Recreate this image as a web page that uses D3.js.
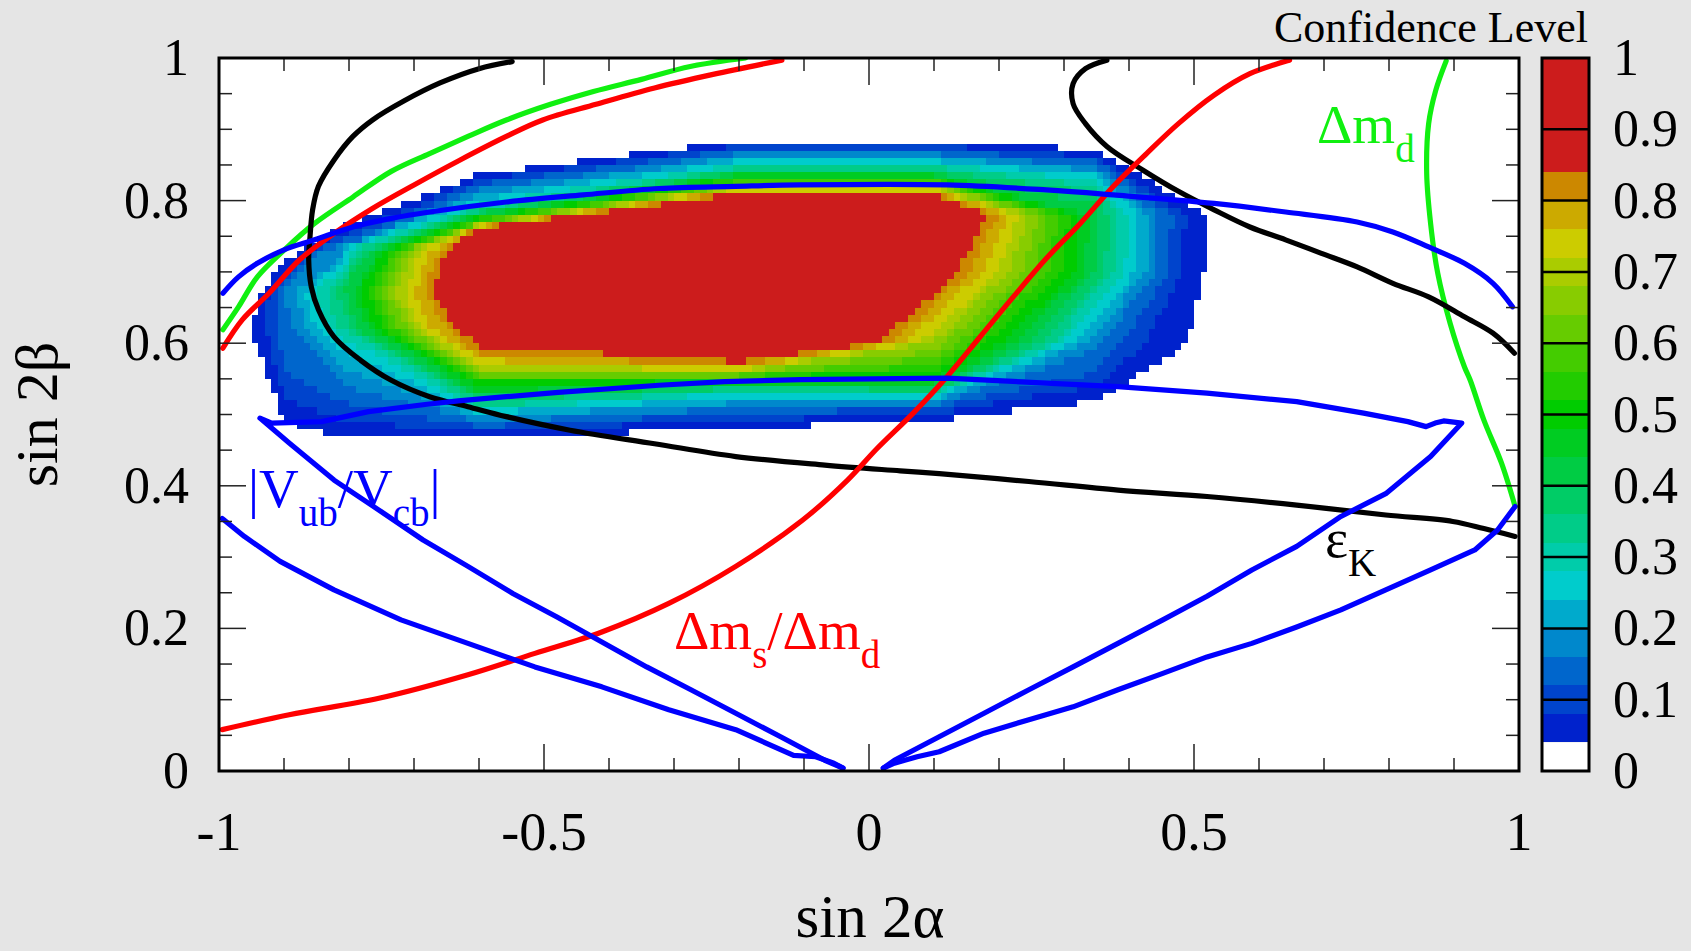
<!DOCTYPE html>
<html><head><meta charset="utf-8">
<script src="https://cdn.jsdelivr.net/npm/d3@7"></script>
<style>
html,body{margin:0;padding:0;background:#e5e5e5;}
svg{display:block;font-family:"Liberation Serif","Times New Roman",serif;}
</style>
</head><body>
<svg id="chart" width="1691" height="951"></svg>
<script>
// ---------------- DATA ----------------
const xTickValues = [-1, -0.5, 0, 0.5, 1];
const xTickLabels = ["-1", "-0.5", "0", "0.5", "1"];
const yTickValues = [0, 0.2, 0.4, 0.6, 0.8, 1];
const yTickLabels = ["0", "0.2", "0.4", "0.6", "0.8", "1"];
const zTickValues = [0, 0.1, 0.2, 0.3, 0.4, 0.5, 0.6, 0.7, 0.8, 0.9, 1];
const zTickLabels = ["0", "0.1", "0.2", "0.3", "0.4", "0.5", "0.6", "0.7", "0.8", "0.9", "1"];

// confidence-level contour levels and band colours (band k = [level k, level k+1))
const clLevels = [0.04,0.08,0.12,0.16,0.20,0.24,0.28,0.32,0.36,0.40,0.44,0.48,0.52,0.56,0.60,0.64,0.68,0.72,0.76,0.80,0.84];
const clColors = ["#0022cc","#0044cc","#0066cc","#0088cc","#00aacc","#00cccc","#00ccaa","#00cc88","#00cc66","#00cc44","#00cc22","#00cc00","#22cc00","#44cc00","#66cc00","#88cc00","#aacc00","#cccc00","#ccaa00","#cc8800","#cc1c1c"];

// positions where each CL level boundary crosses a horizontal row (x values) ...
const rowLeft062 = [-0.952,-0.929,-0.909,-0.888,-0.868,-0.850,-0.832,-0.816,-0.801,-0.786,-0.773,-0.760,-0.745,-0.734,-0.724,-0.711,-0.701,-0.688,-0.673,-0.652,-0.636];
const rowLeft067 = [-0.937,-0.924,-0.914,-0.899,-0.880,-0.868,-0.852,-0.837,-0.822,-0.806,-0.793,-0.786,-0.770,-0.760,-0.750,-0.740,-0.729,-0.714,-0.699,-0.683,-0.670];
const rowLeft073 = [-0.875,-0.864,-0.856,-0.843,-0.827,-0.817,-0.804,-0.791,-0.779,-0.766,-0.755,-0.749,-0.736,-0.727,-0.719,-0.710,-0.701,-0.689,-0.676,-0.663,-0.652];
const rowRight078 = [0.517,0.486,0.466,0.445,0.430,0.415,0.399,0.384,0.368,0.353,0.338,0.322,0.307,0.291,0.276,0.261,0.245,0.230,0.214,0.199,0.181];
const rowRight070 = [0.515,0.481,0.461,0.440,0.425,0.409,0.394,0.378,0.363,0.348,0.332,0.317,0.297,0.276,0.255,0.235,0.214,0.199,0.173,0.153,0.135];
const rowRight060 = [0.491,0.425,0.389,0.358,0.338,0.317,0.297,0.281,0.266,0.245,0.225,0.204,0.178,0.158,0.138,0.117,0.097,0.076,0.050,0.030,0.009];
// ... and a vertical column (y values)
const colTop090 = [0.712,0.695,0.685,null,null,null,null,null,null,null,null,null,null,null,null,null,null,null,null,null,null];
const colBot090 = [0.489,0.520,0.560,null,null,null,null,null,null,null,null,null,null,null,null,null,null,null,null,null,null];
const colTop080 = [0.768,0.756,0.747,0.738,0.728,0.721,0.714,0.707,0.700,0.691,null,null,null,null,null,null,null,null,null,null,null];
const colBot080 = [0.467,0.490,0.513,0.537,0.560,0.584,0.602,0.616,0.635,0.653,null,null,null,null,null,null,null,null,null,null,null];
const colTop060 = [0.837,0.829,0.822,0.815,0.808,0.801,0.795,0.790,0.786,0.783,0.780,0.777,0.775,0.772,0.770,0.769,0.767,0.765,0.764,0.763,0.761];
const colBot060 = [0.467,0.476,0.483,0.490,0.497,0.502,0.506,0.511,0.519,0.525,0.532,0.539,0.545,0.548,0.553,0.558,0.563,0.570,0.576,0.583,0.595];
const colTop020 = [0.885,0.878,0.872,0.866,0.861,0.856,0.851,0.847,0.843,0.839,0.836,0.833,0.830,0.827,0.824,0.822,0.820,0.818,0.815,0.813,0.810];
const colBot020 = [0.481,0.492,0.502,0.509,0.516,0.523,0.530,0.533,0.537,0.541,0.545,0.548,0.552,0.553,0.555,0.558,0.560,0.562,0.566,0.569,0.574];
const colTop010 = [0.885,0.878,0.872,0.866,0.861,0.856,0.851,0.847,0.843,0.839,0.836,0.833,0.830,0.827,0.824,0.822,0.820,0.818,0.815,0.813,0.810];
const colBot010 = [0.492,0.501,0.508,0.513,0.518,0.523,0.526,0.530,0.534,0.539,0.544,0.550,0.560,0.569,0.579,0.588,0.602,0.616,0.637,0.654,0.668];
const colTop035 = [0.872,0.862,0.855,0.848,0.842,0.835,0.828,0.820,0.810,0.795,null,null,null,null,null,null,null,null,null,null,null];
const colBot035 = [0.518,0.540,0.560,0.590,null,null,null,null,null,null,null,null,null,null,null,null,null,null,null,null,null];

// constraint curves (sin2alpha, sin2beta)
const dmdLeft = [[-0.994,0.619],[-0.970,0.651],[-0.941,0.693],[-0.897,0.733],[-0.853,0.768],[-0.794,0.805],[-0.735,0.841],[-0.676,0.866],[-0.617,0.890],[-0.558,0.913],[-0.490,0.935],[-0.424,0.953],[-0.350,0.970],[-0.275,0.988],[-0.190,1.0]];
const dmdRight = [[0.888,0.996],[0.872,0.955],[0.861,0.908],[0.858,0.838],[0.864,0.768],[0.875,0.698],[0.894,0.628],[0.916,0.567],[0.925,0.548],[0.946,0.492],[0.973,0.432],[0.994,0.371]];
const dmsLeft = [[-0.994,0.593],[-0.964,0.633],[-0.923,0.670],[-0.876,0.717],[-0.823,0.754],[-0.764,0.789],[-0.700,0.822],[-0.629,0.857],[-0.558,0.890],[-0.502,0.913],[-0.420,0.935],[-0.330,0.958],[-0.240,0.977],[-0.134,0.997]];
const dmsRight = [[-0.995,0.058],[-0.892,0.079],[-0.754,0.102],[-0.617,0.135],[-0.514,0.165],[-0.411,0.195],[-0.308,0.235],[-0.205,0.287],[-0.102,0.352],[-0.033,0.408],[0.012,0.452],[0.068,0.502],[0.120,0.553],[0.171,0.609],[0.222,0.665],[0.273,0.719],[0.325,0.768],[0.376,0.820],[0.427,0.866],[0.476,0.908],[0.531,0.948],[0.586,0.978],[0.647,0.997]];
const ekLeft = [[-0.549,0.995],[-0.600,0.985],[-0.660,0.965],[-0.715,0.940],[-0.764,0.913],[-0.794,0.890],[-0.823,0.857],[-0.847,0.820],[-0.856,0.787],[-0.860,0.749],[-0.862,0.717],[-0.858,0.679],[-0.847,0.647],[-0.823,0.609],[-0.782,0.576],[-0.735,0.548],[-0.676,0.525],[-0.617,0.511],[-0.558,0.497],[-0.460,0.478],[-0.330,0.459],[-0.205,0.441],[-0.068,0.429],[0.048,0.421],[0.108,0.417],[0.246,0.406],[0.383,0.394],[0.520,0.385],[0.658,0.373],[0.795,0.359],[0.898,0.350],[0.946,0.340],[0.994,0.329]];
const ekRight = [[0.366,0.997],[0.333,0.985],[0.314,0.964],[0.314,0.936],[0.333,0.908],[0.366,0.876],[0.421,0.843],[0.476,0.813],[0.531,0.787],[0.586,0.763],[0.641,0.745],[0.696,0.726],[0.751,0.707],[0.806,0.684],[0.861,0.665],[0.916,0.637],[0.960,0.614],[0.993,0.586]];
const vubTop = [[-0.994,0.670],[-0.970,0.693],[-0.941,0.712],[-0.900,0.731],[-0.853,0.745],[-0.794,0.763],[-0.735,0.775],[-0.676,0.784],[-0.558,0.798],[-0.440,0.808],[-0.323,0.817],[-0.205,0.820],[-0.106,0.822],[0.120,0.822],[0.273,0.815],[0.376,0.808],[0.531,0.796],[0.641,0.784],[0.751,0.770],[0.806,0.756],[0.861,0.735],[0.916,0.712],[0.960,0.684],[0.990,0.651]];
const vubOuterLeft = [[-0.995,0.354],[-0.961,0.329],[-0.906,0.294],[-0.823,0.254],[-0.720,0.212],[-0.617,0.179],[-0.514,0.146],[-0.411,0.118],[-0.308,0.086],[-0.205,0.058],[-0.116,0.022],[-0.082,0.020],[-0.054,0.011],[-0.040,0.004]];
const vubLoop = [[-0.040,0.004],[-0.068,0.015],[-0.136,0.048],[-0.205,0.081],[-0.274,0.114],[-0.342,0.146],[-0.411,0.181],[-0.480,0.216],[-0.548,0.249],[-0.617,0.287],[-0.686,0.324],[-0.754,0.366],[-0.823,0.408],[-0.892,0.460],[-0.937,0.495],[-0.919,0.488],[-0.842,0.490],[-0.770,0.504],[-0.683,0.514],[-0.632,0.519],[-0.558,0.525],[-0.478,0.531],[-0.323,0.541],[-0.222,0.546],[-0.106,0.549],[0.120,0.551],[0.273,0.544],[0.383,0.539],[0.520,0.530],[0.658,0.518],[0.761,0.502],[0.829,0.490],[0.857,0.483],[0.871,0.488],[0.884,0.491],[0.912,0.488],[0.864,0.441],[0.795,0.389],[0.726,0.357],[0.658,0.315],[0.589,0.282],[0.520,0.245],[0.452,0.212],[0.383,0.179],[0.314,0.146],[0.246,0.114],[0.177,0.081],[0.108,0.048],[0.039,0.015],[0.022,0.004]];
const vubOuterRight = [[0.022,0.004],[0.039,0.011],[0.074,0.020],[0.108,0.027],[0.177,0.053],[0.246,0.072],[0.314,0.090],[0.383,0.114],[0.452,0.137],[0.520,0.160],[0.589,0.179],[0.658,0.202],[0.726,0.226],[0.795,0.254],[0.864,0.282],[0.932,0.310],[0.967,0.338],[0.994,0.371]];

// ---------------- LAYOUT ----------------
const svg = d3.select("#chart");
const W = 1691, H = 951;
const m = {left: 219, right: 1519, top: 58, bottom: 771};
const x = d3.scaleLinear().domain([-1, 1]).range([m.left, m.right]);
const y = d3.scaleLinear().domain([0, 1]).range([m.bottom, m.top]);
const zb = {left: 1542, right: 1589};
const z = d3.scaleLinear().domain([0, 1]).range([m.bottom, m.top]);

svg.append("rect").attr("width", W).attr("height", H).attr("fill", "#e5e5e5");
svg.append("rect").attr("x", m.left).attr("y", m.top).attr("width", m.right - m.left).attr("height", m.bottom - m.top).attr("fill", "#ffffff");

// ---------------- HEAT MAP (cells classified by contour polygons) ----------------
const rowSections = [[0.62, rowLeft062], [0.672, rowLeft067], [0.73, rowLeft073], [0.78, rowRight078], [0.70, rowRight070], [0.60, rowRight060]];
const colSections = [[-0.9, colTop090], [-0.9, colBot090], [-0.8, colTop080], [-0.8, colBot080], [-0.6, colTop060], [-0.6, colBot060], [-0.2, colTop020], [-0.2, colBot020], [0.1, colTop010], [0.1, colBot010], [0.35, colTop035], [0.35, colBot035]];
const cx0 = -0.25, cy0 = 0.69;
const polys = clLevels.map((lv, k) => {
  const pts = [];
  rowSections.forEach(([yv, arr]) => { if (arr[k] != null) pts.push([arr[k], yv]); });
  colSections.forEach(([xv, arr]) => { if (arr[k] != null) pts.push([xv, arr[k]]); });
  pts.sort((a, b) => Math.atan2(y(cy0) - y(a[1]), x(a[0]) - x(cx0)) - Math.atan2(y(cy0) - y(b[1]), x(b[0]) - x(cx0)));
  return pts;
});

const cell = 0.01;
const heat = svg.append("g").attr("shape-rendering", "crispEdges");
for (let j = 0; j < 100; j++) {
  const yc = (j + 0.5) * cell;
  let runStart = null, runColor = null;
  const flush = (iEnd) => {
    if (runColor) {
      const x0 = x(-1 + runStart * cell), x1 = x(-1 + iEnd * cell);
      heat.append("rect").attr("x", x0).attr("y", y(yc + cell / 2)).attr("width", x1 - x0).attr("height", y(yc - cell / 2) - y(yc + cell / 2)).attr("fill", runColor);
    }
  };
  for (let i = 0; i <= 200; i++) {
    let col = null;
    if (i < 200) {
      const xc = -1 + (i + 0.5) * cell;
      for (let k = clLevels.length - 1; k >= 0; k--) {
        if (polys[k].length > 2 && d3.polygonContains(polys[k], [xc, yc])) { col = clColors[k]; break; }
      }
    }
    if (col !== runColor) { flush(i); runStart = i; runColor = col; }
  }
}

// ---------------- CURVES ----------------
const clipId = "plotclip";
svg.append("clipPath").attr("id", clipId).append("rect").attr("x", m.left).attr("y", m.top).attr("width", m.right - m.left).attr("height", m.bottom - m.top);
const line = d3.line().x(d => x(d[0])).y(d => y(d[1])).curve(d3.curveCatmullRom.alpha(0.5));
const curves = svg.append("g").attr("clip-path", `url(#${clipId})`).attr("fill", "none").attr("stroke-linejoin", "round").attr("stroke-linecap", "round");
const green = "#10f010";
const SW = 5.2;
curves.append("path").attr("d", line(dmdLeft)).attr("stroke", green).attr("stroke-width", SW);
curves.append("path").attr("d", line(dmdRight)).attr("stroke", green).attr("stroke-width", SW);
curves.append("path").attr("d", line(ekLeft)).attr("stroke", "#000").attr("stroke-width", SW);
curves.append("path").attr("d", line(ekRight)).attr("stroke", "#000").attr("stroke-width", SW);
curves.append("path").attr("d", line(dmsLeft)).attr("stroke", "#ff0000").attr("stroke-width", SW);
curves.append("path").attr("d", line(dmsRight)).attr("stroke", "#ff0000").attr("stroke-width", SW);
curves.append("path").attr("d", line(vubTop)).attr("stroke", "#0000ff").attr("stroke-width", SW);
const lineLin = d3.line().x(d => x(d[0])).y(d => y(d[1]));
curves.append("path").attr("d", lineLin(vubOuterLeft)).attr("stroke", "#0000ff").attr("stroke-width", SW);
curves.append("path").attr("d", lineLin(vubLoop)).attr("stroke", "#0000ff").attr("stroke-width", SW);
curves.append("path").attr("d", lineLin(vubOuterRight)).attr("stroke", "#0000ff").attr("stroke-width", SW);

// ---------------- FRAME & TICKS ----------------
const ticks = svg.append("g").attr("stroke", "#222").attr("stroke-width", 1.5);
const xMinor = d3.range(-10, 11).map(d => d / 10);
const yMinor = d3.range(0, 21).map(d => d / 20);
xMinor.forEach(v => {
  const major = Math.abs(v * 2 - Math.round(v * 2)) < 1e-9;
  const L = major ? 27 : 13;
  ticks.append("line").attr("x1", x(v)).attr("x2", x(v)).attr("y1", m.bottom).attr("y2", m.bottom - L);
  ticks.append("line").attr("x1", x(v)).attr("x2", x(v)).attr("y1", m.top).attr("y2", m.top + L);
});
yMinor.forEach(v => {
  const major = Math.abs(v * 5 - Math.round(v * 5)) < 1e-9;
  const L = major ? 27 : 13;
  ticks.append("line").attr("y1", y(v)).attr("y2", y(v)).attr("x1", m.left).attr("x2", m.left + L);
  ticks.append("line").attr("y1", y(v)).attr("y2", y(v)).attr("x1", m.right).attr("x2", m.right - L);
});
svg.append("rect").attr("x", m.left).attr("y", m.top).attr("width", m.right - m.left).attr("height", m.bottom - m.top).attr("fill", "none").attr("stroke", "#000").attr("stroke-width", 3);

// tick labels
const lab = svg.append("g").attr("fill", "#000");
xTickValues.forEach((v, i) => lab.append("text").attr("x", x(v)).attr("y", 850).attr("text-anchor", "middle").attr("font-size", 54).text(xTickLabels[i]));
yTickValues.forEach((v, i) => lab.append("text").attr("x", 189).attr("y", y(v) + 17).attr("text-anchor", "end").attr("font-size", 52).text(yTickLabels[i]));

// axis titles
lab.append("text").attr("x", 870).attr("y", 937).attr("text-anchor", "middle").attr("font-size", 61).text("sin 2α");
lab.append("text").attr("transform", `translate(57,${(m.top + m.bottom) / 2}) rotate(-90)`).attr("text-anchor", "middle").attr("font-size", 60).text("sin 2β");

// ---------------- COLOUR BAR ----------------
const cb = svg.append("g");
cb.append("rect").attr("x", zb.left).attr("y", z(0.04)).attr("width", zb.right - zb.left).attr("height", z(0) - z(0.04)).attr("fill", "#fff");
clLevels.forEach((lv, k) => {
  const top = k < clLevels.length - 1 ? clLevels[k + 1] : 1;
  cb.append("rect").attr("x", zb.left).attr("y", z(top)).attr("width", zb.right - zb.left).attr("height", z(lv) - z(top)).attr("fill", clColors[k]).attr("shape-rendering", "crispEdges");
});
zTickValues.slice(1, -1).forEach(v => cb.append("line").attr("x1", zb.left).attr("x2", zb.right).attr("y1", z(v)).attr("y2", z(v)).attr("stroke", "#000").attr("stroke-width", 2.5));
cb.append("rect").attr("x", zb.left).attr("y", z(1)).attr("width", zb.right - zb.left).attr("height", z(0) - z(1)).attr("fill", "none").attr("stroke", "#000").attr("stroke-width", 3);
zTickValues.forEach((v, i) => cb.append("text").attr("x", 1613).attr("y", z(v) + 17).attr("font-size", 52).text(zTickLabels[i]));
svg.append("text").attr("x", 1588).attr("y", 42).attr("text-anchor", "end").attr("font-size", 44).text("Confidence Level");

// ---------------- CURVE LABELS ----------------
function subLabel(xp, yp, color, parts) {
  const t = svg.append("text").attr("x", xp).attr("y", yp).attr("fill", color).attr("font-size", 55);
  let shift = 0;
  parts.forEach(([s, sub]) => {
    const want = sub ? 19 : 0;
    t.append("tspan").attr("dy", want - shift).attr("font-size", sub ? 39 : 55).text(s);
    shift = want;
  });
}
subLabel(248, 507, "#0000ff", [["|V", 0], ["ub", 1], ["/V", 0], ["cb", 1], ["|", 0]]);
subLabel(674, 649, "#ff0000", [["Δm", 0], ["s", 1], ["/Δm", 0], ["d", 1]]);
subLabel(1325, 557, "#000000", [["ε", 0], ["K", 1]]);
subLabel(1317, 143, green, [["Δm", 0], ["d", 1]]);
</script>
</body></html>
